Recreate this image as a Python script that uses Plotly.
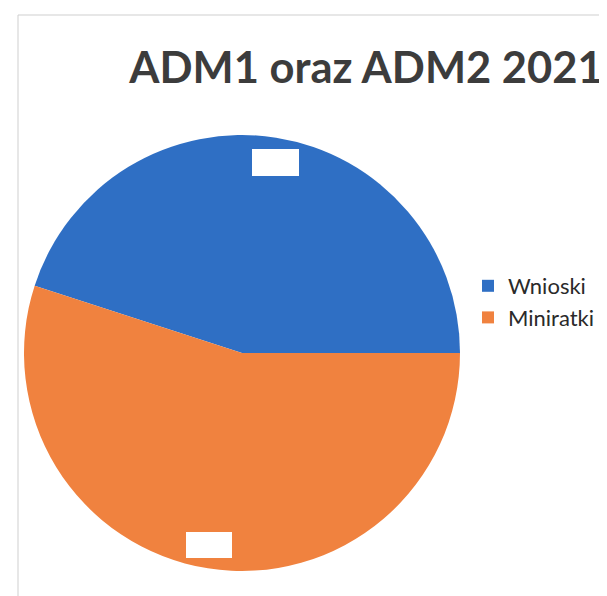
import plotly.graph_objects as go

labels = ["Wnioski", "Miniratki"]
values = [45, 55]
colors = ["#2F6FC4", "#F0823F"]
title_text = "ADM1 oraz ADM2 2021"

W, H = 607, 596

fig = go.Figure(
    go.Pie(
        labels=labels,
        values=values,
        marker=dict(colors=colors, line=dict(width=0)),
        sort=False,
        direction="clockwise",
        rotation=-72,
        textinfo="none",
        hoverinfo="label+value+percent",
        domain=dict(x=[16 / W, 452 / W], y=[(251 - 218) / H, (251 + 218) / H]),
    )
)

# redacted data-label boxes
for cx, cy, bw, bh in [(267.5, 154.5, 47, 27), (201, 537, 46, 26)]:
    fig.add_annotation(
        x=cx / W, y=1 - cy / H, xref="paper", yref="paper",
        xanchor="center", yanchor="middle",
        text=" ", showarrow=False, width=bw, height=bh,
        bgcolor="white", borderpad=0, borderwidth=0,
    )

fig.add_shape(
    type="rect", xref="paper", yref="paper",
    x0=10 / W, x1=1.02, y0=-0.02, y1=1 - 7 / H,
    line=dict(color="#cfcfcf", width=1), fillcolor="rgba(0,0,0,0)",
)

fig.update_layout(
    width=W,
    height=H,
    margin=dict(l=0, r=0, t=0, b=0),
    paper_bgcolor="white",
    plot_bgcolor="white",
    title=dict(
        text="<b>" + title_text + "</b>",
        x=358 / W, xanchor="center",
        y=1 - 60 / H, yanchor="middle",
        font=dict(family="Lato", size=43.5, color="#3C3C3C"),
    ),
    legend=dict(
        x=460 / W, xanchor="left",
        y=1 - 257 / H, yanchor="top",
        font=dict(family="Lato", size=22, color="#2a2a2a"),
        bgcolor="rgba(0,0,0,0)",
        itemwidth=30,
    ),
    showlegend=True,
)

fig.write_html("out.html")
